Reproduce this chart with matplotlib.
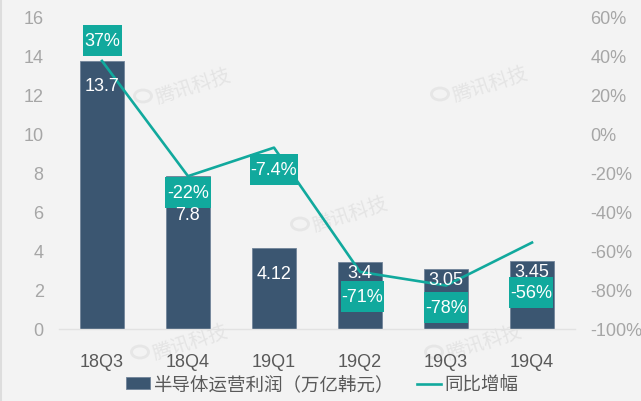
import matplotlib
matplotlib.use("Agg")
import matplotlib.pyplot as plt
from matplotlib.patches import Ellipse, Rectangle
from matplotlib.transforms import IdentityTransform

plt.rcParams['font.family'] = ['Liberation Sans', 'Noto Sans CJK SC', 'DejaVu Sans']

quarters = ['18Q3', '18Q4', '19Q1', '19Q2', '19Q3', '19Q4']
profit = [13.7, 7.8, 4.12, 3.4, 3.05, 3.45]
growth = [37, -22, -7.4, -71, -78, -56]
profit_labels = ['13.7', '7.8', '4.12', '3.4', '3.05', '3.45']
growth_labels = ['37%', '-22%', '-7.4%', '-71%', '-78%', '-56%']

# label offsets from the mark, in pixels of the picture
profit_off = [-25, -38, -25, -10, -11, -10]
growth_off = [20.5, -16.5, -21.5, -24.5, -21.5, -49.5]
growth_dx = [0, 0, 0, 2, 0, -1]
box_w = [39, 46, 48, 43, 44, 44]
box_h = 31

W, H = 641, 402
bg = '#f3f3f3'
bar_col = '#3b5671'
teal = '#11a99d'
px = 72 / 100

fig = plt.figure(figsize=(W / 100, H / 100), dpi=100, facecolor=bg)
ax = fig.add_axes([59 / W, 1 - 329.5 / H, 516 / W, 312.5 / H], facecolor='none')
ax2 = ax.twinx()
# axes above the watermarks
ax.set_zorder(2)
ax2.set_zorder(3)

x = list(range(len(quarters)))
bars = ax.bar(x, profit, width=0.515, color=bar_col, edgecolor='#71849a', linewidth=0.6,
              label='半导体运营利润（万亿韩元）', zorder=2)
ax.set_xlim(-0.5, 5.5)
ax.set_ylim(0, 16)
ax.set_yticks(range(0, 17, 2))
ax.set_xticks(x)
ax.set_xticklabels(quarters, color='#595959', fontsize=13)
ax.tick_params(axis='x', length=0, pad=18)
ax.tick_params(axis='y', length=0, pad=11, labelsize=13, labelcolor='#a6a6a6')

ax2.set_ylim(-100, 60)
ax2.set_yticks(range(-100, 61, 20))
ax2.set_yticklabels(['%d%%' % v for v in range(-100, 61, 20)])
ax2.tick_params(axis='y', length=0, pad=11, labelsize=13, labelcolor='#a6a6a6')
line, = ax2.plot(x, growth, color=teal, linewidth=1.9, label='同比增幅', zorder=3)

for a in (ax, ax2):
    for s in a.spines.values():
        s.set_visible(False)
ax.spines['bottom'].set_visible(True)
ax.spines['bottom'].set_color('#e2e2e2')
ax.spines['bottom'].set_linewidth(1)

for i in x:
    ax2.annotate(profit_labels[i], (i, profit[i]), xycoords=ax.transData,
                 xytext=(0, profit_off[i] * px), textcoords='offset points',
                 ha='center', va='center', color='white', fontsize=13, zorder=7)
    # green box around each growth label, sized in pixels
    cx, cy = ax2.transData.transform((i, growth[i]))
    cx += growth_dx[i]
    cy += growth_off[i]
    ax2.add_patch(Rectangle((cx - box_w[i] / 2, cy - box_h / 2), box_w[i], box_h, fc=teal, ec='none',
                            transform=IdentityTransform(), zorder=5))
    ax2.text(cx, cy, growth_labels[i], transform=IdentityTransform(), ha='center', va='center',
             color='white', fontsize=13, zorder=6)

# faint watermarks
for wx, wy in [(193, 87), (490, 85), (350, 215), (190, 343), (484, 343)]:
    fig.text(wx / W, 1 - wy / H, '腾讯科技', color='#e4e4e4', fontsize=14, rotation=18,
             ha='center', va='center', zorder=1)
    fig.add_artist(Ellipse(((wx - 50) / W, 1 - (wy + 10) / H), 17 / W, 12 / H, fc='none',
                           ec='#e6e6e6', lw=2, transform=fig.transFigure, zorder=1))

# left edge of the screenshot
fig.add_artist(plt.Line2D([0.5 / W, 0.5 / W], [0, 1], color='#dddddd', lw=1.5))

fig.legend([bars, line], ['半导体运营利润（万亿韩元）', '同比增幅'], loc='center',
           bbox_to_anchor=(322 / W, 1 - 386 / H), ncol=2, frameon=False, fontsize=13.3,
           labelcolor='#595959', handlelength=1.3, handleheight=0.6, handletextpad=0.15, columnspacing=1.3,
           borderpad=0)

fig.savefig('out.png', dpi=100, facecolor=bg)
